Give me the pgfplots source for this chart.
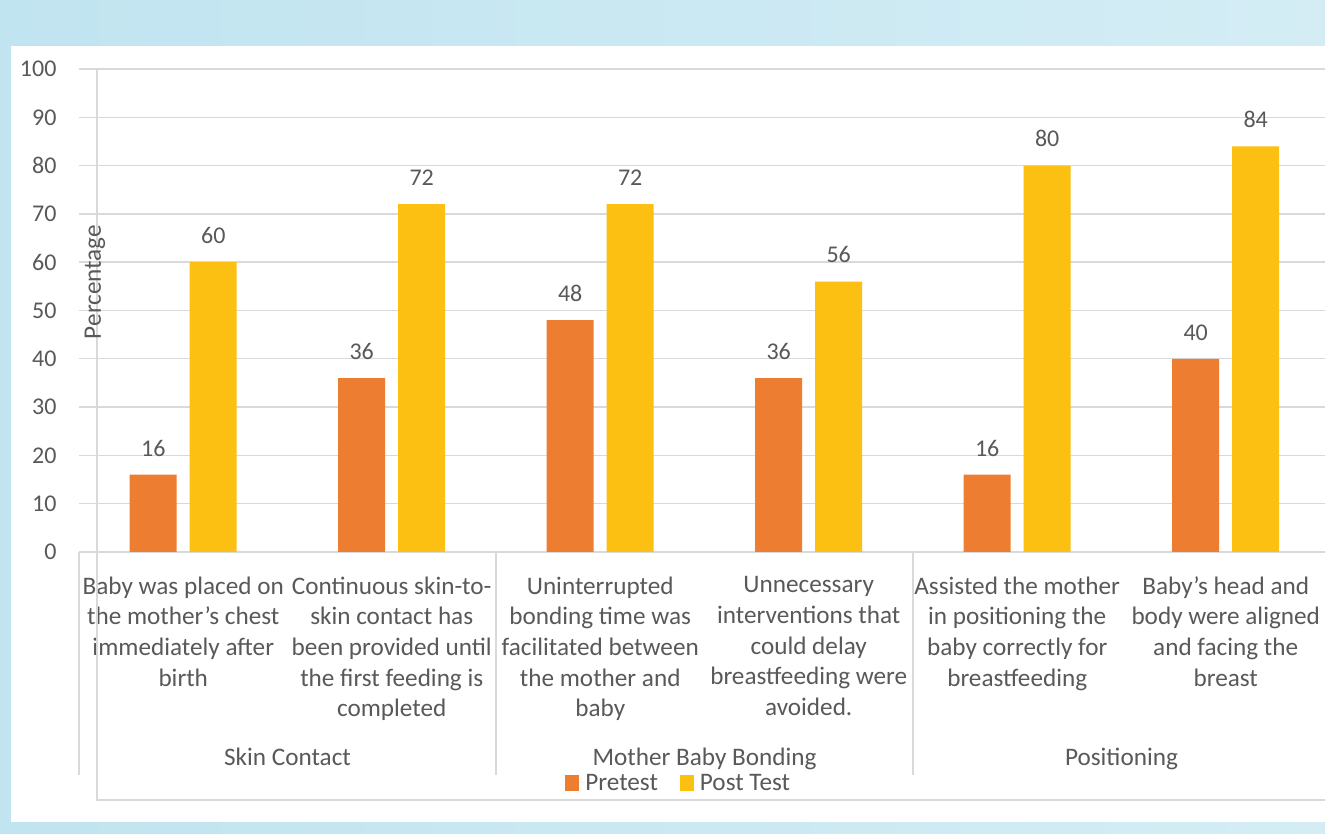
\documentclass[border=0pt]{standalone}
\usepackage{pgfplots}
\pgfplotsset{compat=1.18}
\usepackage{fontspec}
\setmainfont{Carlito}
\definecolor{orangeb}{RGB}{237,125,49}
\definecolor{yellowb}{RGB}{251,192,18}
\definecolor{gridgray}{RGB}{217,217,217}
\definecolor{txtgray}{RGB}{89,89,89}
\definecolor{bgl}{RGB}{192,228,240}
\definecolor{bgr}{RGB}{212,237,245}
\newcommand\lbl{\fontsize{25.2bp}{30.7bp}\selectfont}
\newcommand\tck{\fontsize{24bp}{29bp}\selectfont}
\begin{document}
\begin{tikzpicture}
\useasboundingbox (0bp,0bp) rectangle (1325bp,834bp);
\clip (0bp,0bp) rectangle (1325bp,834bp);
\shade[left color=bgl, right color=bgr] (0bp,0bp) rectangle (1325bp,834bp);
\fill[white] (11bp,12bp) rectangle (1325bp,788bp);
\begin{axis}[
  at={(79bp,282bp)}, anchor=south west,
  scale only axis, width=1251bp, height=483bp,
  xmin=-0.5, xmax=5.5, ymin=0, ymax=100,
  ytick={0,10,...,100}, xtick={0,...,5},
  xticklabels={
    {Baby was placed on\\the mother’s chest\\immediately after\\birth},
    {Continuous skin-to-\\skin contact has\\been provided until\\the first feeding is\\completed},
    {Uninterrupted\\bonding time was\\facilitated between\\the mother and\\baby},
    {Unnecessary\\interventions that\\could delay\\breastfeeding were\\avoided.},
    {Assisted the mother\\in positioning the\\baby correctly for\\breastfeeding},
    {Baby’s head and\\body were aligned\\and facing the\\breast}},
  xticklabel style={align=center, font=\lbl, text=txtgray, anchor=north, yshift=-21bp},
  yticklabel style={font=\tck, text=txtgray, xshift=-19bp},
  /pgf/number format/assume math mode=true,
  ybar=13bp, bar width=47bp,
  axis line style={draw=none}, major tick length=0pt,
  ymajorgrids, grid style={draw=gridgray, line width=1.4bp},
  clip=false,
  nodes near coords,
  every node near coord/.append style={font=\tck, text=txtgray, yshift=15bp},
  legend image code/.code={\fill[#1] (0bp,-8bp) rectangle (14bp,8bp); \path (0bp,0bp) -- (19bp,0bp);},
  legend style={at={(0.479,-0.478)}, anchor=center, draw=none, fill=none,
    legend columns=2, font=\lbl, text=txtgray,
    nodes={inner xsep=1bp, inner ysep=0bp},
    /tikz/every even column/.append style={column sep=21bp}},
]
\addplot[draw=none, fill=orangeb] coordinates {(0,16) (1,36) (2,48) (3,36) (4,16) (5,40)};
\addplot[draw=none, fill=yellowb] coordinates {(0,60) (1,72) (2,72) (3,56) (4,80) (5,84)};
\legend{Pretest, Post Test}
\end{axis}
\draw[gridgray, line width=1.4bp] (97bp,765bp) -- (97bp,34bp) -- (1325bp,34bp);
\foreach \x in {79,496,913,1330} {\draw[gridgray, line width=1.4bp] (\x bp,282bp) -- (\x bp,59bp);}
\node[font=\lbl, text=txtgray, anchor=base, inner ysep=0bp] at (287.5bp,68bp) {Skin Contact};
\node[font=\lbl, text=txtgray, anchor=base, inner ysep=0bp] at (704.5bp,68bp) {Mother Baby Bonding};
\node[font=\lbl, text=txtgray, anchor=base, inner ysep=0bp] at (1121.5bp,68bp) {Positioning};
\node[font=\lbl, text=txtgray, rotate=90] at (95bp,552bp) {Percentage};
\end{tikzpicture}
\end{document}
